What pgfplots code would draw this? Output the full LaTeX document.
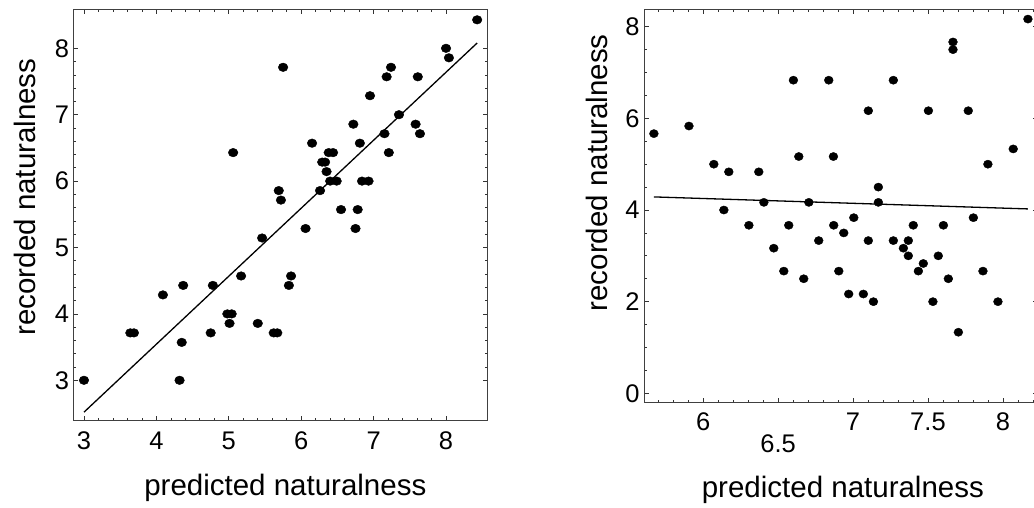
\documentclass[border=0pt]{standalone}
\usepackage{pgfplots}
\pgfplotsset{compat=1.18}
\usepackage{fontspec}
\setmainfont{Liberation Sans}
\begin{document}
\begin{tikzpicture}
\pgfplotsset{
  mystyle/.style={
    scale only axis,
    axis line style={line width=1pt, black!75},
    tick align=inside,
    major tick length=4.5pt,
    minor tick length=2.5pt,
    every tick/.style={black!80, line width=0.7pt},
    tick label style={font=\fontsize{25.5}{30}\selectfont},
    /pgf/number format/assume math mode=true,
    xticklabel style={yshift=-7pt},
    yticklabel style={xshift=-1pt},
    clip=false,
  }
}
% ---------- left panel ----------
\begin{axis}[mystyle,
  at={(73.7pt,87pt)}, anchor=south west,
  width=413.3pt, height=411pt,
  xmin=2.858, xmax=8.566, ymin=2.387, ymax=8.577,
  xtick={3,4,5,6,7,8}, ytick={3,4,5,6,7,8},
  minor tick num=4,
  xlabel={predicted naturalness}, ylabel={recorded naturalness},
  xlabel style={at={(axis description cs:0.512,-0.163)}, anchor=center, font=\fontsize{29.5}{34}\selectfont},
  ylabel style={at={(axis description cs:-0.117,0.545)}, anchor=center, rotate=0, font=\fontsize{29.5}{34}\selectfont},
]
\addplot[only marks, mark=*, mark size=4.3pt, mark options={xscale=1.12, fill=black}] coordinates {
(8.43,8.429) (8.00,8.000) (8.04,7.857) (5.75,7.714) (7.24,7.714)
(7.18,7.571) (7.61,7.571) (6.95,7.286) (7.35,7.000) (6.72,6.857)
(7.58,6.857) (7.15,6.714) (7.64,6.714) (6.15,6.571) (6.81,6.571)
(5.06,6.429) (6.38,6.429) (6.44,6.429) (7.21,6.429) (6.29,6.286)
(6.33,6.286) (6.35,6.143) (6.40,6.000) (6.49,6.000) (6.84,6.000)
(6.93,6.000) (5.69,5.857) (6.26,5.857) (5.72,5.714) (6.55,5.571)
(6.78,5.571) (6.06,5.286) (6.75,5.286) (5.46,5.143) (5.17,4.571)
(5.86,4.571) (4.37,4.429) (4.78,4.429) (5.83,4.429) (4.09,4.286)
(4.98,4.000) (5.04,4.000) (5.01,3.857) (5.40,3.857) (3.64,3.714)
(3.69,3.714) (4.75,3.714) (5.62,3.714) (5.67,3.714) (4.35,3.571)
(3.00,3.000) (4.32,3.000)
};
\addplot[black, line width=1.3pt] coordinates {(3.0,2.52) (8.43,8.08)};
\end{axis}
% ---------- right panel ----------
\begin{axis}[mystyle,
  at={(644pt,105.7pt)}, anchor=south west,
  width=393.8pt, height=392.3pt,
  xmin=5.605, xmax=8.233, ymin=-0.196, ymax=8.365,
  xtick={6,7,7.5,8}, xticklabels={6,7,7.5,8},
  extra x ticks={6.5}, extra x tick labels={6.5},
  extra x tick style={tick label style={yshift=-22pt}},
  minor xtick={5.7,5.8,...,8.25},
  ytick={0,2,4,6,8},
  minor ytick={-0.5,0,...,8.5},
  xlabel={predicted naturalness}, ylabel={recorded naturalness},
  xlabel style={at={(axis description cs:0.505,-0.224)}, anchor=center, font=\fontsize{29.5}{34}\selectfont},
  ylabel style={at={(axis description cs:-0.119,0.585)}, anchor=center, rotate=0, font=\fontsize{29.5}{34}\selectfont},
]
\addplot[only marks, mark=*, mark size=4.1pt, mark options={xscale=1.08, fill=black}] coordinates {
(5.671,5.667) (5.905,5.833) (6.071,5.000) (6.171,4.833) (6.371,4.833)
(6.138,4.000) (6.405,4.167) (6.602,6.833) (6.638,5.167) (6.705,4.167)
(6.838,6.833) (6.869,5.167) (7.102,6.167) (7.169,4.500) (7.169,4.167)
(7.269,6.833) (7.503,6.167) (7.667,7.667) (7.667,7.500) (7.769,6.167)
(7.900,5.000) (8.069,5.333) (8.167,8.167) (6.305,3.667) (6.571,3.667)
(6.871,3.667) (7.402,3.667) (7.603,3.667) (7.005,3.833) (7.803,3.833)
(6.938,3.500) (6.771,3.333) (7.102,3.333) (7.269,3.333) (7.369,3.333)
(6.471,3.167) (7.336,3.167) (7.369,3.000) (7.569,3.000) (7.469,2.833)
(6.538,2.667) (6.905,2.667) (7.436,2.667) (7.867,2.667) (6.671,2.500)
(7.636,2.500) (6.971,2.167) (7.069,2.167) (7.136,2.000) (7.533,2.000)
(7.967,2.000) (7.703,1.333)
};
\addplot[black, line width=1.3pt] coordinates {(5.671,4.286) (8.167,4.024)};
\end{axis}
\pgfresetboundingbox
\useasboundingbox (0pt,0pt) rectangle (1034pt,508pt);
\end{tikzpicture}
\end{document}
